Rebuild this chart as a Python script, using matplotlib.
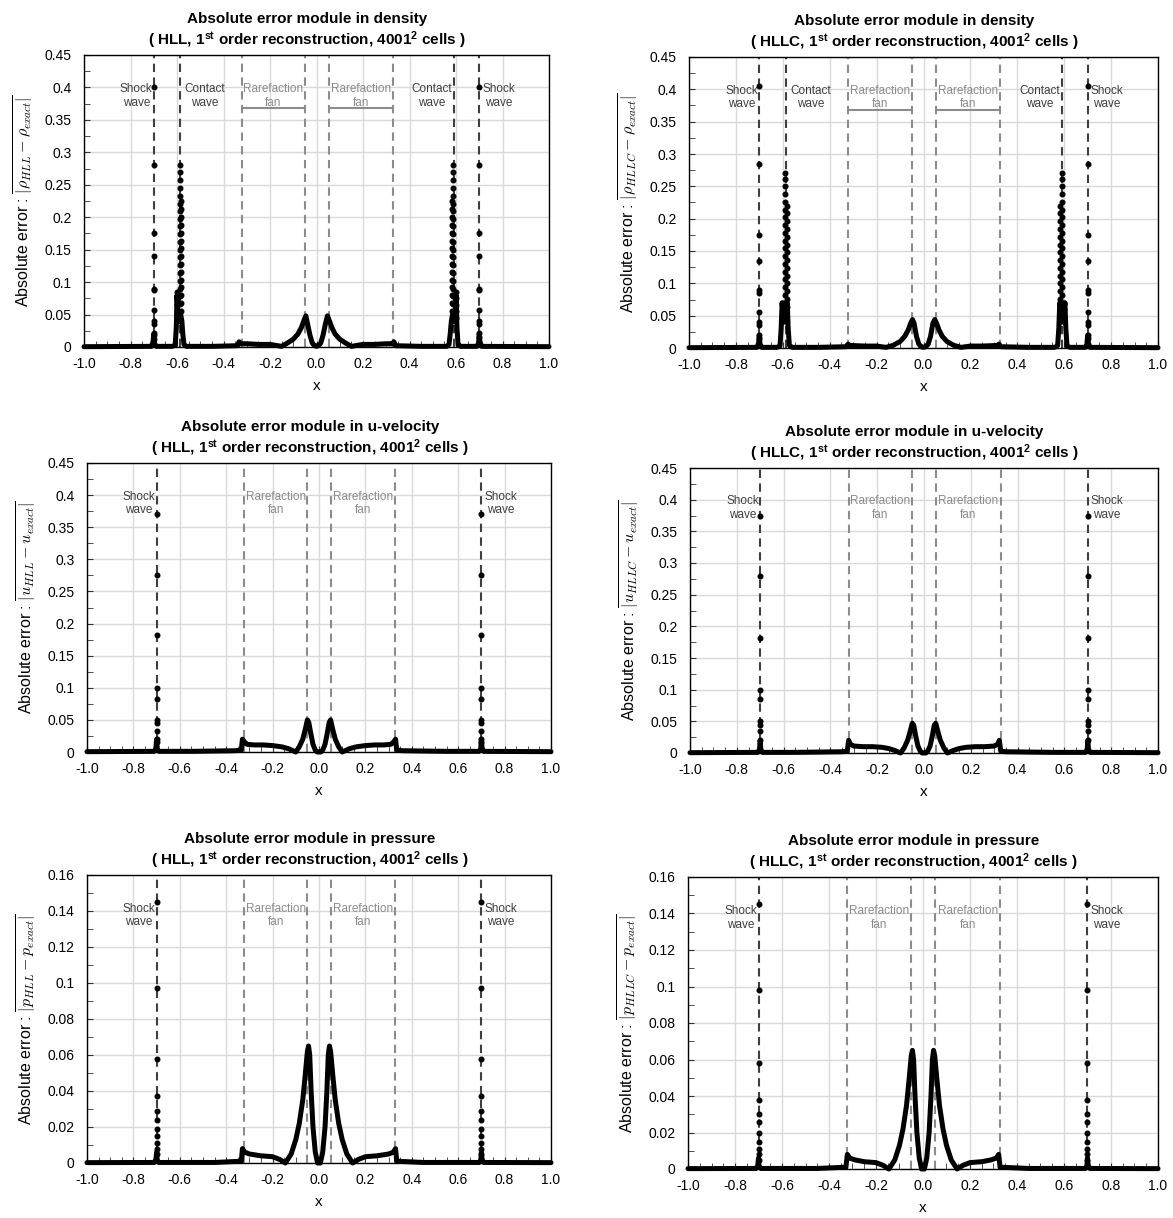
import matplotlib
matplotlib.use("Agg")
from matplotlib import pyplot as plt
from matplotlib.ticker import MultipleLocator, FuncFormatter

plt.rcParams["font.family"] = ["Liberation Sans", "DejaVu Sans"]
plt.rcParams["mathtext.fontset"] = "custom"
plt.rcParams["mathtext.rm"] = "Liberation Sans"
plt.rcParams["mathtext.it"] = "Liberation Sans:italic"
plt.rcParams["mathtext.bf"] = "Liberation Sans:bold"
plt.rcParams["axes.unicode_minus"] = False

# ---- Data ----
# Density, HLL: (x, |error|) along the thick curve
dens_hll_curve = [
    (-1.0, 0.0005), (-0.71, 0.001), (-0.703, 0.008), (-0.700, 0.02), (-0.697, 0.006),
    (-0.69, 0.001), (-0.62, 0.001), (-0.608, 0.003), (-0.603, 0.03), (-0.600, 0.08),
    (-0.596, 0.05), (-0.590, 0.04), (-0.584, 0.05), (-0.579, 0.04), (-0.575, 0.02),
    (-0.570, 0.004), (-0.56, 0.001), (-0.45, 0.001), (-0.34, 0.002), (-0.333, 0.008),
    (-0.326, 0.005), (-0.30, 0.005), (-0.25, 0.004), (-0.20, 0.004), (-0.15, 0.001),
    (-0.13, 0.005), (-0.10, 0.012), (-0.08, 0.02), (-0.065, 0.03), (-0.055, 0.04),
    (-0.046, 0.048), (-0.038, 0.035), (-0.028, 0.018), (-0.018, 0.006), (-0.008, 0.002),
    (0.0, 0.001), (0.008, 0.002), (0.018, 0.006), (0.028, 0.018), (0.038, 0.035),
    (0.047, 0.048), (0.056, 0.04), (0.066, 0.03), (0.08, 0.02), (0.10, 0.012),
    (0.13, 0.005), (0.15, 0.001), (0.20, 0.004), (0.25, 0.004), (0.30, 0.005),
    (0.326, 0.005), (0.333, 0.008), (0.34, 0.002), (0.45, 0.001), (0.56, 0.001),
    (0.570, 0.004), (0.575, 0.02), (0.580, 0.04), (0.585, 0.05), (0.591, 0.04),
    (0.597, 0.05), (0.601, 0.08), (0.604, 0.03), (0.609, 0.003), (0.62, 0.001),
    (0.69, 0.001), (0.697, 0.006), (0.700, 0.02), (0.703, 0.008), (0.71, 0.001),
    (1.0, 0.0005),
]
dens_hll_spike_x = [-0.70, -0.599, -0.589, -0.583, 0.583, 0.589, 0.599, 0.70]
dens_hll_spike_y = [
    [0.40, 0.28, 0.175, 0.14, 0.09, 0.088, 0.057, 0.04, 0.036, 0.022, 0.018, 0.012],
    [0.085, 0.075, 0.065, 0.055, 0.045],
    [0.28, 0.27, 0.258, 0.245, 0.232, 0.22, 0.21, 0.198, 0.186, 0.174, 0.162, 0.15,
     0.138, 0.126, 0.114, 0.102, 0.09, 0.078, 0.066, 0.054],
    [0.225, 0.212, 0.2, 0.188, 0.176, 0.164, 0.152, 0.14, 0.128, 0.116, 0.104, 0.092,
     0.08, 0.068, 0.056],
    [0.225, 0.212, 0.2, 0.188, 0.176, 0.164, 0.152, 0.14, 0.128, 0.116, 0.104, 0.092,
     0.08, 0.068, 0.056],
    [0.28, 0.27, 0.258, 0.245, 0.232, 0.22, 0.21, 0.198, 0.186, 0.174, 0.162, 0.15,
     0.138, 0.126, 0.114, 0.102, 0.09, 0.078, 0.066, 0.054],
    [0.085, 0.075, 0.065, 0.055, 0.045],
    [0.40, 0.28, 0.175, 0.14, 0.09, 0.088, 0.057, 0.04, 0.036, 0.022, 0.015],
]

# Density, HLLC
dens_hllc_curve = [
    (-1.0, 0.0005), (-0.71, 0.001), (-0.703, 0.008), (-0.700, 0.02), (-0.697, 0.006),
    (-0.69, 0.001), (-0.625, 0.001), (-0.612, 0.003), (-0.607, 0.03), (-0.603, 0.07),
    (-0.598, 0.05), (-0.592, 0.04), (-0.586, 0.05), (-0.581, 0.07), (-0.577, 0.03),
    (-0.572, 0.004), (-0.56, 0.001), (-0.45, 0.001), (-0.33, 0.002), (-0.322, 0.006),
    (-0.315, 0.004), (-0.25, 0.003), (-0.20, 0.003), (-0.16, 0.001), (-0.13, 0.004),
    (-0.10, 0.01), (-0.08, 0.018), (-0.065, 0.028), (-0.055, 0.038), (-0.047, 0.044),
    (-0.04, 0.038), (-0.03, 0.018), (-0.02, 0.006), (-0.01, 0.002), (0.0, 0.001),
    (0.01, 0.002), (0.02, 0.006), (0.03, 0.018), (0.04, 0.038), (0.048, 0.044),
    (0.056, 0.038), (0.066, 0.028), (0.08, 0.018), (0.10, 0.01), (0.13, 0.004),
    (0.16, 0.001), (0.20, 0.003), (0.25, 0.003), (0.315, 0.004), (0.322, 0.006),
    (0.33, 0.002), (0.45, 0.001), (0.56, 0.001), (0.572, 0.004), (0.577, 0.03),
    (0.581, 0.07), (0.586, 0.05), (0.592, 0.04), (0.598, 0.05), (0.603, 0.07),
    (0.607, 0.03), (0.612, 0.003), (0.625, 0.001), (0.69, 0.001), (0.697, 0.006),
    (0.700, 0.02), (0.703, 0.008), (0.71, 0.001), (1.0, 0.0005),
]
dens_hllc_spike_x = [-0.70, -0.601, -0.591, -0.584, 0.584, 0.591, 0.601, 0.70]
dens_hllc_spike_y = [
    [0.405, 0.285, 0.175, 0.135, 0.09, 0.085, 0.055, 0.04, 0.036, 0.02, 0.015],
    [0.07, 0.06, 0.05],
    [0.27, 0.262, 0.25, 0.238, 0.226, 0.214, 0.202, 0.19, 0.178, 0.166, 0.154, 0.142,
     0.13, 0.118, 0.106, 0.094, 0.082, 0.07, 0.058],
    [0.22, 0.208, 0.196, 0.184, 0.172, 0.16, 0.148, 0.136, 0.124, 0.112, 0.1, 0.088,
     0.076, 0.064],
    [0.22, 0.208, 0.196, 0.184, 0.172, 0.16, 0.148, 0.136, 0.124, 0.112, 0.1, 0.088,
     0.076, 0.064],
    [0.27, 0.262, 0.25, 0.238, 0.226, 0.214, 0.202, 0.19, 0.178, 0.166, 0.154, 0.142,
     0.13, 0.118, 0.106, 0.094, 0.082, 0.07, 0.058],
    [0.07, 0.06, 0.05],
    [0.405, 0.285, 0.175, 0.135, 0.09, 0.085, 0.055, 0.04, 0.036, 0.02, 0.015],
]

# u-velocity, HLL
vel_hll_curve = [
    (-1.0, 0.0005), (-0.71, 0.001), (-0.703, 0.006), (-0.700, 0.02), (-0.697, 0.004),
    (-0.69, 0.001), (-0.55, 0.001), (-0.45, 0.0015), (-0.36, 0.002), (-0.335, 0.003),
    (-0.330, 0.02), (-0.322, 0.016), (-0.31, 0.012), (-0.28, 0.011), (-0.24, 0.011),
    (-0.20, 0.01), (-0.16, 0.008), (-0.13, 0.005), (-0.10, 0.0), (-0.085, 0.008),
    (-0.07, 0.02), (-0.06, 0.034), (-0.05, 0.05), (-0.044, 0.046), (-0.036, 0.03),
    (-0.026, 0.012), (-0.016, 0.003), (-0.008, 0.0), (0.0, 0.0), (0.008, 0.0),
    (0.016, 0.003), (0.026, 0.012), (0.036, 0.03), (0.044, 0.046), (0.05, 0.05),
    (0.06, 0.034), (0.07, 0.02), (0.085, 0.008), (0.10, 0.0), (0.13, 0.005),
    (0.16, 0.008), (0.20, 0.01), (0.24, 0.011), (0.28, 0.011), (0.31, 0.012),
    (0.322, 0.016), (0.330, 0.02), (0.335, 0.003), (0.36, 0.002), (0.45, 0.0015),
    (0.55, 0.001), (0.69, 0.001), (0.697, 0.004), (0.700, 0.02), (0.703, 0.006),
    (0.71, 0.001), (1.0, 0.0005),
]
vel_hll_spike_x = [-0.70, 0.70]
vel_hll_spike_y = [
    [0.37, 0.275, 0.182, 0.1, 0.083, 0.05, 0.045, 0.033, 0.02, 0.015],
    [0.37, 0.275, 0.182, 0.1, 0.083, 0.05, 0.045, 0.033, 0.02, 0.015],
]

# u-velocity, HLLC
vel_hllc_curve = [
    (-1.0, 0.0005), (-0.71, 0.001), (-0.703, 0.006), (-0.700, 0.02), (-0.697, 0.004),
    (-0.69, 0.001), (-0.55, 0.001), (-0.45, 0.0015), (-0.35, 0.002), (-0.328, 0.003),
    (-0.322, 0.02), (-0.315, 0.014), (-0.30, 0.011), (-0.26, 0.01), (-0.22, 0.01),
    (-0.18, 0.009), (-0.15, 0.007), (-0.125, 0.004), (-0.10, 0.0), (-0.085, 0.008),
    (-0.07, 0.02), (-0.06, 0.033), (-0.05, 0.047), (-0.044, 0.044), (-0.036, 0.028),
    (-0.026, 0.011), (-0.016, 0.003), (-0.008, 0.0), (0.0, 0.0), (0.008, 0.0),
    (0.016, 0.003), (0.026, 0.011), (0.036, 0.028), (0.044, 0.044), (0.05, 0.047),
    (0.06, 0.033), (0.07, 0.02), (0.085, 0.008), (0.10, 0.0), (0.125, 0.004),
    (0.15, 0.007), (0.18, 0.009), (0.22, 0.01), (0.26, 0.01), (0.30, 0.011),
    (0.315, 0.014), (0.322, 0.02), (0.328, 0.003), (0.35, 0.002), (0.45, 0.0015),
    (0.55, 0.001), (0.69, 0.001), (0.697, 0.004), (0.700, 0.02), (0.703, 0.006),
    (0.71, 0.001), (1.0, 0.0005),
]
vel_hllc_spike_x = [-0.70, 0.70]
vel_hllc_spike_y = [
    [0.375, 0.28, 0.182, 0.1, 0.085, 0.05, 0.045, 0.035, 0.02],
    [0.375, 0.28, 0.182, 0.1, 0.085, 0.05, 0.045, 0.035, 0.02],
]

# Pressure, HLL
pres_hll_curve = [
    (-1.0, 0.0002), (-0.71, 0.0003), (-0.703, 0.002), (-0.700, 0.006), (-0.697, 0.001),
    (-0.69, 0.0003), (-0.45, 0.0003), (-0.335, 0.001), (-0.330, 0.008), (-0.32, 0.006),
    (-0.30, 0.005), (-0.25, 0.004), (-0.20, 0.0035), (-0.17, 0.002), (-0.145, 0.0),
    (-0.12, 0.005), (-0.10, 0.013), (-0.085, 0.022), (-0.07, 0.035), (-0.06, 0.048),
    (-0.05, 0.062), (-0.045, 0.065), (-0.04, 0.06), (-0.034, 0.04), (-0.026, 0.02),
    (-0.016, 0.006), (-0.006, 0.0), (0.006, 0.0), (0.016, 0.006), (0.026, 0.02),
    (0.034, 0.04), (0.04, 0.06), (0.045, 0.065), (0.05, 0.062), (0.06, 0.048),
    (0.07, 0.035), (0.085, 0.022), (0.10, 0.013), (0.12, 0.005), (0.145, 0.0),
    (0.17, 0.002), (0.20, 0.0035), (0.25, 0.004), (0.30, 0.005), (0.32, 0.006),
    (0.330, 0.008), (0.335, 0.001), (0.45, 0.0003), (0.69, 0.0003), (0.697, 0.001),
    (0.700, 0.006), (0.703, 0.002), (0.71, 0.0003), (1.0, 0.0002),
]
pres_hll_spike_x = [-0.70, 0.70]
pres_hll_spike_y = [
    [0.145, 0.097, 0.058, 0.037, 0.029, 0.024, 0.019, 0.015, 0.011, 0.008, 0.005],
    [0.145, 0.097, 0.058, 0.037, 0.029, 0.024, 0.019, 0.015, 0.011, 0.008, 0.005],
]

# Pressure, HLLC
pres_hllc_curve = [
    (-1.0, 0.0002), (-0.71, 0.0003), (-0.703, 0.002), (-0.700, 0.006), (-0.697, 0.001),
    (-0.69, 0.0003), (-0.45, 0.0003), (-0.328, 0.001), (-0.322, 0.008), (-0.312, 0.006),
    (-0.29, 0.005), (-0.25, 0.004), (-0.20, 0.0035), (-0.17, 0.002), (-0.145, 0.0),
    (-0.12, 0.005), (-0.10, 0.013), (-0.085, 0.022), (-0.07, 0.035), (-0.06, 0.048),
    (-0.05, 0.062), (-0.045, 0.065), (-0.04, 0.06), (-0.034, 0.04), (-0.026, 0.02),
    (-0.016, 0.006), (-0.006, 0.0), (0.006, 0.0), (0.016, 0.006), (0.026, 0.02),
    (0.034, 0.04), (0.04, 0.06), (0.045, 0.065), (0.05, 0.062), (0.06, 0.048),
    (0.07, 0.035), (0.085, 0.022), (0.10, 0.013), (0.12, 0.005), (0.145, 0.0),
    (0.17, 0.002), (0.20, 0.0035), (0.25, 0.004), (0.29, 0.005), (0.312, 0.006),
    (0.322, 0.008), (0.328, 0.001), (0.45, 0.0003), (0.69, 0.0003), (0.697, 0.001),
    (0.700, 0.006), (0.703, 0.002), (0.71, 0.0003), (1.0, 0.0002),
]
pres_hllc_spike_x = [-0.70, 0.70]
pres_hllc_spike_y = [
    [0.145, 0.098, 0.058, 0.038, 0.03, 0.026, 0.02, 0.015, 0.011, 0.008, 0.005],
    [0.145, 0.098, 0.058, 0.038, 0.03, 0.026, 0.02, 0.015, 0.011, 0.008, 0.005],
]

# wave positions
shock_x = [-0.70, 0.70]
contact_x = [-0.588, 0.59]
rare_x = [-0.322, -0.05, 0.053, 0.328]

titles = ["Absolute error module in density",
          "Absolute error module in u-velocity",
          "Absolute error module in pressure"]
solvers = ["HLL", "HLLC"]
ylabels = [r"\rho_{%s} - \rho_{exact}", r"u_{%s} - u_{exact}", r"p_{%s} - p_{exact}"]

# ---- Figure ----
W, H = 1173, 1218
fig = plt.figure(figsize=(W / 100, H / 100), dpi=100)

DARK = "#3f3f3f"
LIGHT = "#8c8c8c"


def box(l, t, r, b):
    return [l / W, 1 - b / H, (r - l) / W, (b - t) / H]


def panel(rect, curve, spike_x, spike_y, row, col, ymax, ystep, yminor):
    ax = fig.add_axes(rect)
    ax.set_xlim(-1.0, 1.0)
    ax.set_ylim(0, ymax)
    ax.xaxis.set_major_locator(MultipleLocator(0.2))
    ax.xaxis.set_minor_locator(MultipleLocator(0.05))
    ax.yaxis.set_major_locator(MultipleLocator(ystep))
    ax.yaxis.set_minor_locator(MultipleLocator(yminor))
    ax.xaxis.set_major_formatter(FuncFormatter(lambda v, p: f"{v:.1f}"))
    ax.yaxis.set_major_formatter(FuncFormatter(lambda v, p: f"{v:g}"))
    ax.tick_params(which="both", direction="in", top=False, right=False,
                   labelsize=10, color="#333333")
    ax.tick_params(which="major", length=4)
    ax.tick_params(which="minor", length=4)
    ax.tick_params(axis="y", pad=9)
    ax.tick_params(axis="x", pad=7)
    ax.grid(True, which="major", color="#d9d9d9", lw=1.0)
    ax.set_axisbelow(True)
    for s in ax.spines.values():
        s.set_color("black")
        s.set_linewidth(1.0)

    # wave lines
    dash = (0, (4, 2.6))
    for x in shock_x:
        ax.axvline(x, color=DARK, lw=1.5, ls=dash, zorder=1)
    for x in rare_x:
        ax.axvline(x, color=LIGHT, lw=1.5, ls=dash, zorder=1)

    yt = ymax * 0.86
    fs = 8.5
    ax.text(-0.705, yt, "Shock\nwave", ha="right", va="center", color=DARK,
            fontsize=fs, linespacing=1.15, multialignment="center")
    ax.text(0.712, yt, "Shock\nwave", ha="left", va="center", color=DARK,
            fontsize=fs, linespacing=1.15, multialignment="center")
    ax.text(-0.186, yt, "Rarefaction\nfan", ha="center", va="center", color=LIGHT,
            fontsize=fs, linespacing=1.15)
    ax.text(0.19, yt, "Rarefaction\nfan", ha="center", va="center", color=LIGHT,
            fontsize=fs, linespacing=1.15)
    if row == 0:
        for x in contact_x:
            ax.axvline(x, color=DARK, lw=1.5, ls=dash, zorder=1)
        ax.text(-0.568, yt, "Contact\nwave", ha="left", va="center", color=DARK,
                fontsize=fs, linespacing=1.15, multialignment="center")
        ax.text(0.582, yt, "Contact\nwave", ha="right", va="center", color=DARK,
                fontsize=fs, linespacing=1.15, multialignment="center")
        ax.plot([rare_x[0] + 0.005, rare_x[1] - 0.005], [0.368, 0.368], color=LIGHT, lw=1.5)
        ax.plot([rare_x[2] + 0.005, rare_x[3] - 0.005], [0.368, 0.368], color=LIGHT, lw=1.5)

    cx = [p[0] for p in curve]
    cy = [p[1] for p in curve]
    ax.plot(cx, cy, color="black", lw=3.6, solid_joinstyle="round",
            solid_capstyle="round", clip_on=False, zorder=3)
    for x, ys in zip(spike_x, spike_y):
        ax.plot([x] * len(ys), ys, "o", color="black", ms=3.3, zorder=4)

    solver = solvers[col]
    ax.set_title(titles[row] + "\n( " + solver + r", 1$^{\mathbf{st}}$ order reconstruction, 4001$^{\mathbf{2}}$ cells )",
                 fontsize=11, fontweight="bold", pad=7, x=0.48, linespacing=1.25)
    ax.set_xlabel("x", fontsize=11, labelpad=6)
    ax.set_ylabel(r"Absolute error : $\overline{|" + ylabels[row] % solver + r"|}$",
                  fontsize=11.5, math_fontfamily="cm", labelpad=6)
    return ax


panel(box(84, 55, 549, 347), dens_hll_curve, dens_hll_spike_x, dens_hll_spike_y, 0, 0, 0.45, 0.05, 0.025)
panel(box(689, 57, 1158, 348), dens_hllc_curve, dens_hllc_spike_x, dens_hllc_spike_y, 0, 1, 0.45, 0.05, 0.025)
panel(box(87, 463, 551, 752), vel_hll_curve, vel_hll_spike_x, vel_hll_spike_y, 1, 0, 0.45, 0.05, 0.025)
panel(box(690, 468, 1158, 753), vel_hllc_curve, vel_hllc_spike_x, vel_hllc_spike_y, 1, 1, 0.45, 0.05, 0.025)
panel(box(87, 875, 551, 1163), pres_hll_curve, pres_hll_spike_x, pres_hll_spike_y, 2, 0, 0.16, 0.02, 0.01)
panel(box(688, 877, 1158, 1169), pres_hllc_curve, pres_hllc_spike_x, pres_hllc_spike_y, 2, 1, 0.16, 0.02, 0.01)

fig.savefig("out.png", dpi=100)
